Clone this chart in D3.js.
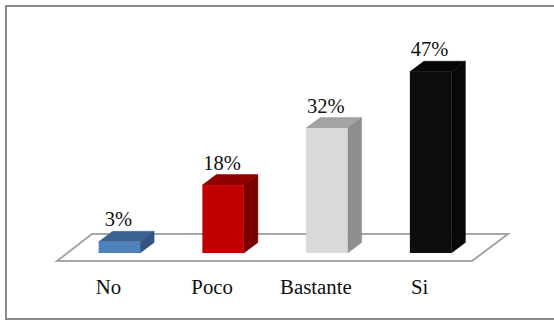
<!DOCTYPE html>
<html>
<head>
<meta charset="utf-8">
<script src="https://cdn.jsdelivr.net/npm/d3@7"></script>
<style>
  html, body { margin: 0; padding: 0; background: #fff; }
  svg { display: block; }
  text { font-family: "Liberation Serif", serif; fill: #111; }
</style>
</head>
<body>
<div id="chart"></div>
<script>
const categories = ['No', 'Poco', 'Bastante', 'Si'];
// labels in the picture are rounded, bar heights are a bit more exact
const values = [2.9, 17.6, 32.4, 47];
const frontColors = ['#4f81bd', '#c00000', '#d9d9d9', '#0d0d0d'];
const topColors = ['#3b6190', '#900000', '#a3a3a3', '#050505'];
const sideColors = ['#335580', '#7a0000', '#8e8e8e', '#080808'];

const width = 554;
const height = 320;
const depthX = 14;
const depthY = 10.5;

const svg = d3.select('#chart')
    .append('svg')
    .attr('width', width)
    .attr('height', height);

// Outer frame, the right side is cut off in the picture
svg.append('path')
    .attr('d', d3.line()([[554, 6], [6, 6], [6, 319], [554, 319]]))
    .attr('fill', 'none')
    .attr('stroke', '#8a8a8a')
    .attr('stroke-width', 2);

const x = d3.scaleBand()
    .domain(categories)
    .range([67.5, 482.5])
    .paddingInner(0.6)
    .paddingOuter(0.3);

const y = d3.scaleLinear()
    .domain([0, 47])
    .range([253, 71.7]);

// Floor of the 3d plot
const floorY = 261;
const floor = [[57, floorY], [472, floorY], [508, 234], [92, 234]];
svg.append('path')
    .attr('d', d3.line()(floor) + 'Z')
    .attr('fill', '#fff')
    .attr('stroke', '#a6a6a6')
    .attr('stroke-width', 2);

const bars = svg.selectAll('g.bar')
    .data(categories)
    .enter().append('g')
    .attr('class', 'bar');

// Top face
bars.append('path')
    .attr('d', (d, i) => {
        const l = x(d), r = l + x.bandwidth(), t = y(values[i]);
        return d3.line()([[l, t], [l + depthX, t - depthY], [r + depthX, t - depthY], [r, t]]) + 'Z';
    })
    .attr('fill', (d, i) => topColors[i])
    .attr('stroke', (d, i) => topColors[i])
    .attr('stroke-width', 0.5);

// Side face
bars.append('path')
    .attr('d', (d, i) => {
        const r = x(d) + x.bandwidth(), t = y(values[i]);
        return d3.line()([[r, t], [r + depthX, t - depthY], [r + depthX, y(0) - depthY], [r, y(0)]]) + 'Z';
    })
    .attr('fill', (d, i) => sideColors[i])
    .attr('stroke', (d, i) => sideColors[i])
    .attr('stroke-width', 0.5);

// Front face
bars.append('rect')
    .attr('x', d => x(d))
    .attr('y', (d, i) => y(values[i]))
    .attr('width', x.bandwidth())
    .attr('height', (d, i) => y(0) - y(values[i]))
    .attr('fill', (d, i) => frontColors[i]);

// Value labels
bars.append('text')
    .attr('x', d => x(d) + x.bandwidth() / 2 - 1)
    .attr('y', (d, i) => y(values[i]) - depthY - 5)
    .attr('text-anchor', 'middle')
    .style('font-size', '20.5px')
    .text((d, i) => Math.round(values[i]) + '%');

// Category labels
svg.selectAll('text.cat')
    .data(categories)
    .enter().append('text')
    .attr('class', 'cat')
    .attr('x', d => x(d) + x.bandwidth() / 2 - 11)
    .attr('y', 294)
    .attr('text-anchor', 'middle')
    .style('font-size', '20.8px')
    .text(d => d);
</script>
</body>
</html>
